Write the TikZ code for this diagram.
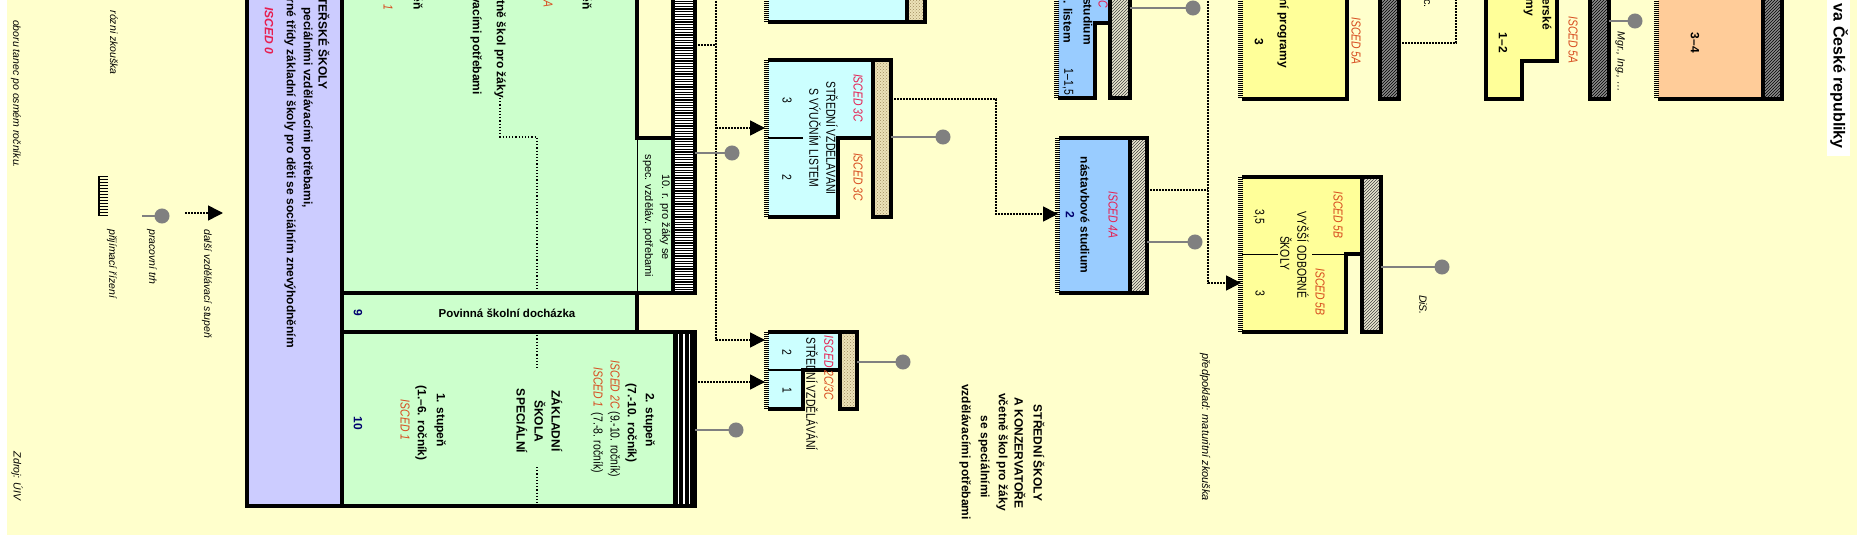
\documentclass[tikz,border=0pt]{standalone}
\usepackage{fontspec}
\setmainfont{Liberation Sans}
\usetikzlibrary{arrows.meta,patterns,decorations.pathreplacing,calc}

\definecolor{podklad}{RGB}{255,255,204}
\definecolor{zelena}{RGB}{204,255,204}
\definecolor{fialova}{RGB}{204,204,255}
\definecolor{tyrkys}{RGB}{204,255,255}
\definecolor{modra}{RGB}{153,204,255}
\definecolor{zluta}{RGB}{255,255,153}
\definecolor{oranzova}{RGB}{255,204,153}
\definecolor{sediva}{RGB}{128,128,128}
\definecolor{iscedruzova}{RGB}{230,30,80}
\definecolor{iscedoranz}{RGB}{215,75,30}
\definecolor{tmavomodra}{RGB}{0,0,110}
\definecolor{bezova}{RGB}{236,226,184}
\definecolor{hneda}{RGB}{160,140,95}
\definecolor{srafapodklad}{RGB}{236,232,210}

\tikzset{
  txt/.style={rotate=-90, inner sep=0pt, font=\fontsize{12}{14}\selectfont\bfseries},
  tenky/.style={rotate=-90, inner sep=0pt, font=\fontsize{11}{13}\selectfont},
  uzky/.style={rotate=-90, xscale=0.8, inner sep=0pt, font=\fontsize{13}{15}\selectfont},
  isced/.style={uzky, font=\fontsize{13}{15}\selectfont\itshape},
  pozn/.style={rotate=-90, inner sep=0pt, font=\fontsize{10.5}{12}\selectfont\itshape},
  okraj/.style={line width=3.5pt, line join=miter},
  cesta/.style={line width=1.6pt, dash pattern=on 1.6pt off 1.4pt},
  sipka/.style={cesta, -{Triangle[length=15pt,width=15pt]}},
  trh/.style={draw=sediva, line width=2pt, -{Circle[length=15pt]}},
  hreben/.style={decorate, decoration={ticks, segment length=2pt, amplitude=2.5pt}, line width=0.6pt},
  srafa/.style={fill=srafapodklad, postaction={pattern=north east lines, pattern color=black!75}},
  tmavasrafa/.style={fill=black!45, postaction={pattern=north east lines, pattern color=black}},
  tecky/.style={fill=bezova, postaction={pattern=crosshatch dots, pattern color=hneda}},
}

\begin{document}
\begin{tikzpicture}[x=1pt, y=-1pt]
\useasboundingbox (0,0) rectangle (1870,545);
\clip (0,0) rectangle (1870,545);
\fill[white] (0,0) rectangle (1870,545);
\fill[podklad] (7,-5) rectangle (1857,535);

% nazev
\fill[white] (1827,-5) rectangle (1850,156);
\node[txt, font=\fontsize{16}{18}\selectfont\bfseries, anchor=east] (nazev) at (1839,149) {va České republiky};

% legenda a poznamky
\node[pozn, anchor=east] (tanec) at (16,168) {oboru tanec po osmém ročníku.};
\node[pozn, anchor=east] (zkouska) at (114,75) {rózni zkouška};
\node[pozn] (zdroj) at (17,476) {Zdroj: ÚIV};
\draw[line width=2pt] (99,176) -- (99,216);
\foreach \t in {177,180,...,216}
  \draw[line width=1pt] (99,\t) -- (108,\t);
\node[pozn, anchor=west] (prijimaci) at (112,229) {přijímací řízení};
\coordinate (lgTrhA) at (142,216);
\coordinate (lgTrhB) at (169.5,216);
\draw[trh] (lgTrhA) -- (lgTrhB);
\node[pozn, anchor=west] (trhlbl) at (152,229) {pracovní trh};
\coordinate (lgSipA) at (185,213);
\coordinate (lgSipB) at (223,213);
\draw[sipka] (lgSipA) -- (lgSipB);
\node[pozn, anchor=west] (stupenlbl) at (207,229) {další vzdělávací stupeň};

% velky blok: materske a zakladni skoly
\fill[fialova] (247,-5) rectangle (342,506);
\fill[zelena] (342,-5) rectangle (637,332);
\fill[zelena] (637,138) rectangle (673,293);
\fill[zelena] (342,332) rectangle (673,506);
\fill[white] (673,-5) rectangle (695,293);
\foreach \t in {-4,-1.4,...,293}
  \draw[line width=1.3pt] (673,\t) -- (695,\t);
\fill[black] (673,332) rectangle (695,506);
\foreach \s in {678.5,684,689.5}
  \draw[white, line width=1.6pt] (\s,334) -- (\s,504);
\draw[okraj] (673,-5) -- (673,293);
\draw[okraj] (247,-5) -- (247,506) -- (695,506) -- (695,332) -- (342,332);
\draw[okraj] (342,293) -- (695,293) -- (695,-5);
\draw[okraj] (342,-5) -- (342,506);
\draw[okraj] (637,-5) -- (637,138) -- (673,138);
\draw[line width=1pt] (637,138) -- (637,293);
\draw[okraj] (637,293) -- (637,332);

\node[txt, anchor=east] (materske) at (324,90) {TEŘSKÉ ŠKOLY};
\node[txt, anchor=east] (spec) at (307,208) {peciálními vzdělávacími potřebami,};
\node[txt, anchor=east] (pripravne) at (290,348) {rné třídy základní školy pro děti se sociálním znevýhodněním};
\node[txt, font=\fontsize{12}{14}\selectfont\bfseries\itshape, text=iscedruzova] (isced0) at (269,31) {ISCED 0};

\node[txt, anchor=east] (frag1) at (418,10) {ěň};
\node[isced, anchor=east, text=iscedoranz] (frag2) at (388,10) {1};
\node[isced, anchor=east, text=iscedoranz] (frag3) at (548,8) {A};
\node[txt, anchor=east] (frag4) at (587,10) {ěň};
\node[txt, anchor=east] (zaky) at (500,98) {tně škol pro žáky};
\node[txt, anchor=east] (potreby) at (476,95) {vacími potřebami};
\draw[line width=1.2pt, dotted] (zaky.east) -- (500,137) -- (537,137) -- (537,293);
\draw[line width=1.2pt, dotted] (537,332) -- (537,368);
\draw[line width=1.2pt, dotted] (537,467) -- (537,506);

\node[txt, text=tmavomodra] (devet) at (358,313) {9};
\node[inner sep=0pt, font=\fontsize{11.5}{14}\selectfont\bfseries] (povinna) at (507,313) {Povinná školní docházka};
\node[tenky] (desaty1) at (665,217) {10. r. pro žáky se};
\node[tenky] (desaty2) at (648,216) {spec. vzděláv. potřebami};

\node[txt, text=tmavomodra] (deset) at (358,423) {10};
\node[txt] (st1) at (440,420) {1. stupeň};
\node[txt] (st1r) at (421,423) {(1.–6. ročník)};
\node[isced, text=iscedoranz] (st1i) at (405,420) {ISCED 1};
\node[txt] (zakladni) at (557,421) {ZÁKLADNÍ};
\node[txt] (skola) at (540,421) {ŠKOLA};
\node[txt] (specialni) at (522,421) {SPECIÁLNÍ};
\node[txt] (st2) at (649,420) {2. stupeň};
\node[txt] (st2r) at (631,423) {(7.-10. ročník)};
\node[uzky] (st2a) at (614,419) {\textcolor{iscedoranz}{\itshape ISCED 2C} (9.-10. ročník)};
\node[uzky] (st2b) at (597,420) {\textcolor{iscedoranz}{\itshape ISCED 1}\enspace(7.-8. ročník)};

% horni tyrkysovy blok
\fill[tyrkys] (768,-5) rectangle (907,22);
\fill[tecky] (907,-5) rectangle (925,22);
\draw[okraj] (768,22) -- (925,22) -- (925,-5);
\draw[okraj] (907,-5) -- (907,22);
\draw[hreben] (766,-5) -- (766,22);

% stredni vzdelavani s vyucnim listem
\fill[tyrkys] (768,60) -- (873,60) -- (873,138) -- (838,138) -- (838,217) -- (768,217) -- cycle;
\fill[tecky] (873,60) rectangle (891,217);
\draw[okraj] (768,60) -- (891,60) -- (891,217) -- (873,217) -- (873,138) -- (838,138) -- (838,217) -- (768,217);
\draw[okraj] (873,60) -- (873,138);
\draw[line width=1.2pt] (768,138) -- (803,138);
\draw[hreben] (766,60) -- (766,217);
\node[isced, text=iscedruzova] (s3ci) at (858,98) {ISCED 3C};
\node[uzky] (s3ct1) at (832,138) {STŘEDNÍ VZDĚLÁVÁNÍ};
\node[uzky] (s3ct2) at (815,138) {S VÝUČNÍM LISTEM};
\node[uzky] (s3c3) at (787,100) {3};
\node[uzky] (s3c2) at (787,177) {2};
\node[isced, text=iscedoranz] (s3ci2) at (858,177) {ISCED 3C};

% stredni vzdelavani 2C/3C
\fill[tyrkys] (768,332) -- (840,332) -- (840,370) -- (803,370) -- (803,409) -- (768,409) -- cycle;
\fill[tecky] (840,332) rectangle (857,409);
\draw[okraj] (768,332) -- (857,332) -- (857,409) -- (840,409) -- (840,370) -- (803,370) -- (803,409) -- (768,409);
\draw[okraj] (840,332) -- (840,370);
\draw[line width=2.5pt] (768,370) -- (803,370);
\draw[hreben] (766,332) -- (766,409);
\node[uzky] (sv2) at (787,352) {2};
\node[uzky] (sv1) at (787,390) {1};
\node[uzky, font=\fontsize{13}{15}\selectfont\itshape] (svi) at (829,368) {\textcolor{iscedruzova}{ISCED}\ \textcolor{iscedoranz}{2C/3C}};
\node[uzky] (svt) at (812,394) {STŘEDNÍ VZDĚLÁVÁNÍ};

% stredni skoly
\node[txt] (ss1) at (1039,453) {STŘEDNÍ ŠKOLY};
\node[txt] (ss2) at (1020,453) {A KONZERVATOŘE};
\node[txt] (ss3) at (1002,452) {včetně škol pro žáky};
\node[txt] (ss4) at (984,457) {se speciálními};
\node[txt] (ss5) at (965,452) {vzdělávacími potřebami};

% nastavbove studium
\fill[modra] (1059,138) rectangle (1130,293);
\fill[srafa] (1130,138) rectangle (1147,293);
\draw[okraj] (1059,138) -- (1147,138) -- (1147,293) -- (1059,293);
\draw[okraj] (1130,138) -- (1130,293);
\draw[hreben] (1057,138) -- (1057,293);
\node[isced, text=iscedruzova] (nasi) at (1113,215) {ISCED 4A};
\node[txt] (nast) at (1085,215) {nástavbové studium};
\node[txt, text=tmavomodra] (nas2) at (1070,215) {2};

% horni modry blok
\fill[modra] (1058,-5) -- (1110,-5) -- (1110,23) -- (1095,23) -- (1095,98) -- (1058,98) -- cycle;
\fill[srafa] (1110,-5) rectangle (1130,98);
\draw[okraj] (1058,98) -- (1095,98) -- (1095,23) -- (1110,23);
\draw[okraj] (1110,-5) -- (1110,98) -- (1130,98) -- (1130,-5);
\draw[hreben] (1056,-5) -- (1056,98);
\node[isced, anchor=east, text=iscedruzova] (mbi) at (1103,8) {C};
\node[txt, anchor=east] (mbt1) at (1088,45) {studium};
\node[txt, anchor=east] (mbt2) at (1068,43) {č. listem};
\node[uzky] (mbr) at (1068,82) {1–1,5};

% vysoke skoly
\fill[zluta] (1242,-5) rectangle (1347,99);
\draw[okraj] (1242,99) -- (1347,99) -- (1347,-5);
\draw[hreben] (1240,-5) -- (1240,99);
\node[txt, anchor=east] (vst) at (1283,68) {ní programy};
\node[txt] (vs3) at (1259,42) {3};
\node[isced, text=iscedoranz] (vsi) at (1356,41) {ISCED 5A};
\fill[tmavasrafa] (1380,-5) rectangle (1399,99);
\draw[okraj] (1380,-5) -- (1380,99) -- (1399,99) -- (1399,-5);
\node[tenky, anchor=east] (atd) at (1427,8) {c.};

\fill[zluta] (1486,-5) -- (1557,-5) -- (1557,61) -- (1522,61) -- (1522,99) -- (1486,99) -- cycle;
\draw[okraj] (1486,-5) -- (1486,99) -- (1522,99) -- (1522,61) -- (1557,61) -- (1557,-5);
\node[txt, anchor=east] (bak1) at (1547,30) {erské};
\node[txt, anchor=east] (bak2) at (1528,16) {my};
\node[txt] (bak3) at (1503,43) {1–2};
\node[isced, text=iscedoranz] (baki) at (1573,40) {ISCED 5A};
\fill[tmavasrafa] (1590,-5) rectangle (1609,99);
\draw[okraj] (1590,-5) -- (1590,99) -- (1609,99) -- (1609,-5);
\node[pozn] (mgr) at (1620,62) {Mgr., Ing., …};

\fill[oranzova] (1658,-5) rectangle (1763,99);
\fill[tmavasrafa] (1763,-5) rectangle (1782,99);
\draw[okraj] (1658,99) -- (1782,99) -- (1782,-5);
\draw[okraj] (1763,-5) -- (1763,99);
\draw[hreben] (1656,-5) -- (1656,99);
\node[txt] (dok) at (1695,43) {3–4};

% vyssi odborne skoly
\fill[zluta] (1242,177) -- (1362,177) -- (1362,254) -- (1346,254) -- (1346,332) -- (1242,332) -- cycle;
\fill[srafa] (1362,177) rectangle (1381,332);
\draw[okraj] (1242,177) -- (1381,177) -- (1381,332) -- (1362,332) -- (1362,254) -- (1346,254) -- (1346,332) -- (1242,332);
\draw[okraj] (1362,177) -- (1362,254);
\draw[line width=0.8pt] (1242,254) -- (1278,254);
\draw[line width=0.8pt] (1312,254) -- (1346,254);
\draw[hreben] (1240,177) -- (1240,332);
\node[isced, text=iscedoranz] (vosi1) at (1338,215) {ISCED 5B};
\node[uzky] (vos35) at (1259,217) {3,5};
\node[uzky] (vost1) at (1303,255) {VYŠŠÍ ODBORNÉ};
\node[uzky] (vost2) at (1286,253) {ŠKOLY};
\node[isced, text=iscedoranz] (vosi2) at (1320,292) {ISCED 5B};
\node[uzky] (vos3) at (1260,293) {3};
\node[pozn] (dis) at (1423,305) {DiS.};
\node[pozn, font=\fontsize{11}{13}\selectfont\itshape, anchor=west] (maturita) at (1205,353) {předpoklad: maturitní zkouška};

% dalsi vzdelavaci stupen
\coordinate (zsHor) at (695,45);
\coordinate (osa) at (716,45);
\coordinate (osaTop) at (716,-5);
\coordinate (s3cIn) at (765,128);
\coordinate (sv2In) at (765,340);
\coordinate (zsDol) at (695,382);
\coordinate (sv1In) at (765,382);
\coordinate (s3cOut) at (891,99);
\coordinate (ohyb) at (996,150);
\coordinate (nasIn) at (1058,214);
\coordinate (nasOut) at (1147,190);
\coordinate (vosOsa) at (1208,-5);
\coordinate (vosIn) at (1241,283);
\coordinate (barOut) at (1399,43);
\coordinate (barTop) at (1456,-5);
\draw[cesta] (zsHor) -- (osa);
\draw[sipka] (osaTop) |- (sv2In);
\draw[sipka] (osa |- s3cIn) -- (s3cIn);
\draw[sipka] (zsDol) -- (sv1In);
\draw[sipka] (s3cOut) -| (ohyb) |- (nasIn);
\draw[cesta] (nasOut) -- (vosOsa |- nasOut);
\draw[sipka] (vosOsa) |- (vosIn);
\draw[cesta] (barOut) -| (barTop);

% pracovni trh
\coordinate (zsT1) at (695,153);   \coordinate (trh1) at (739.5,153);
\coordinate (zsT2) at (695,430);   \coordinate (trh2) at (743.5,430);
\coordinate (s3cT) at (891,137);   \coordinate (trh3) at (950.5,137);
\coordinate (svT) at (857,362);    \coordinate (trh4) at (910.5,362);
\coordinate (mbT) at (1130,8);     \coordinate (trh5) at (1200.5,8);
\coordinate (nasT) at (1147,242);  \coordinate (trh6) at (1202.5,242);
\coordinate (vosT) at (1381,267);  \coordinate (trh7) at (1449.5,267);
\coordinate (mgrT) at (1609,21);   \coordinate (trh8) at (1642.5,21);
\draw[trh] (zsT1) -- (trh1);
\draw[trh] (zsT2) -- (trh2);
\draw[trh] (s3cT) -- (trh3);
\draw[trh] (svT) -- (trh4);
\draw[trh] (mbT) -- (trh5);
\draw[trh] (nasT) -- (trh6);
\draw[trh] (vosT) -- (trh7);
\draw[trh] (mgrT) -- (trh8);
\end{tikzpicture}
\end{document}
